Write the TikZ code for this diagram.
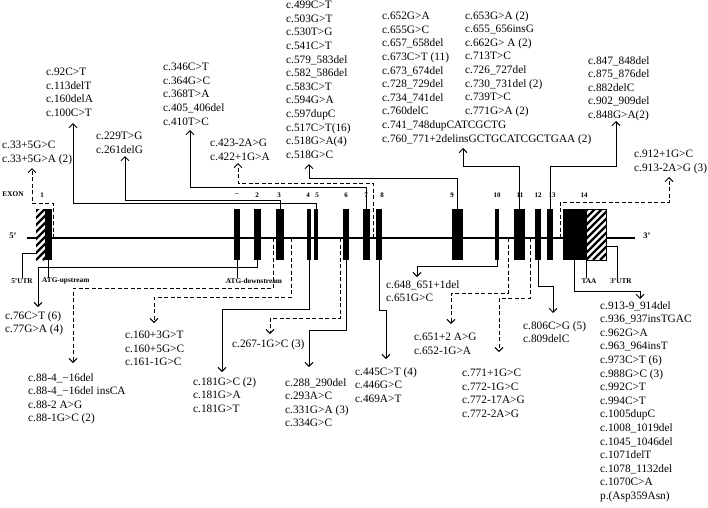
\documentclass[tikz,border=0pt]{standalone}
\usepackage{fontspec}
\setmainfont{Liberation Serif}
\usetikzlibrary{arrows.meta}
\begin{document}
\begin{tikzpicture}[x=1pt,y=-1pt,
  lst/.style={anchor=north west, inner sep=0pt, align=left, font=\fontsize{11.3}{13.6}\selectfont},
  lab/.style={inner sep=0pt, font=\bfseries\fontsize{7.3}{8}\selectfont},
  num/.style={inner sep=0pt, font=\bfseries\fontsize{7}{8}\selectfont},
  exon/.style={fill=black, draw=none, minimum height=51pt, inner sep=0pt, outer sep=0pt},
  hbox/.style={fill=white, draw=none, minimum height=51pt, inner sep=0pt, outer sep=0pt},
  conn/.style={line width=0.9pt},
  arr/.style={conn, -{Straight Barb[length=4pt,width=8pt]}},
  darr/.style={arr, dash pattern=on 4pt off 2.5pt},
  dconn/.style={conn, dash pattern=on 4pt off 2.5pt},
]
\useasboundingbox[fill=white] (0,0) rectangle (708,507);

% main line
\coordinate (ml0) at (27,238);
\coordinate (ml1) at (635,238);
\draw[line width=1.8pt] (ml0) -- (ml1);
\node[inner sep=0pt, font=\bfseries\fontsize{8.5}{9}\selectfont] (p5) at (13,236) {5'};
\node[inner sep=0pt, font=\bfseries\fontsize{8.5}{9}\selectfont] (p3) at (647,236) {3'};
\node[lab] (exonlab) at (13,194) {EXON};

% exons
\node[hbox, minimum width=9pt] (e1h) at (40.5,234.5) {};
\begin{scope}
  \clip (e1h.south west) rectangle (e1h.north east);
  \foreach \k in {-63,-56,...,14} \draw[line width=2.2pt] (36+\k,260) -- ++(60,-60);
\end{scope}
\node[exon, minimum width=7pt] (e1) at (48.5,234.5) {};
\node[exon, minimum width=6pt] (e1p) at (237,234.5) {};
\node[exon, minimum width=7pt] (e2) at (257.5,234.5) {};
\node[exon, minimum width=8pt] (e3) at (280,234.5) {};
\node[exon, minimum width=4pt] (e4) at (309,234.5) {};
\node[exon, minimum width=4pt] (e5) at (316,234.5) {};
\node[exon, minimum width=6pt] (e6) at (346,234.5) {};
\node[exon, minimum width=7pt] (e7) at (366.5,234.5) {};
\node[exon, minimum width=6pt] (e8) at (379,234.5) {};
\node[exon, minimum width=11pt] (e9) at (457.5,234.5) {};
\node[exon, minimum width=4pt] (e10) at (497,234.5) {};
\node[exon, minimum width=11pt] (e11) at (519.5,234.5) {};
\node[exon, minimum width=6pt] (e12) at (538,234.5) {};
\node[exon, minimum width=6pt] (e13) at (550,234.5) {};
\node[exon, minimum width=23pt] (e14) at (574.5,234.5) {};
\node[hbox, minimum width=20pt] (e14h) at (596,234.5) {};
\begin{scope}
  \clip (e14h.south west) rectangle (e14h.north east);
  \foreach \k in {-63,-56,...,28} \draw[line width=2.2pt] (586+\k,260) -- ++(60,-60);
\end{scope}
\draw[line width=0.8pt] (e14h.south west) rectangle (e14h.north east);

% exon numbers
\node[num] (n1) at (42,195) {1};
\node[num] (n1p) at (237,195) {--};
\node[num] (n2) at (257,195) {2};
\node[num] (n3) at (279,195) {3};
\node[num] (n4) at (308,195) {4};
\node[num] (n5) at (317,195) {5};
\node[num] (n6) at (346,195) {6};
\node[num] (n7) at (366,195) {7};
\node[num] (n8) at (382,195) {8};
\node[num] (n9) at (452,195) {9};
\node[num] (n10) at (497,195) {10};
\node[num] (n11) at (520,195) {11};
\node[num] (n12) at (538,195) {12};
\node[num] (n13) at (552,195) {13};
\node[num] (n14) at (584,195) {14};

% small labels below
\node[lab] (utr5) at (22,281) {5'UTR};
\node[lab, anchor=west] (atgu) at (42,281) {ATG-upstream};
\node[lab] (atgd) at (254,281) {ATG-downstream};
\node[lab] (taa) at (589,281) {TAA};
\node[lab] (utr3) at (621,281) {3'UTR};
\coordinate (u5) at (37,253);
\coordinate (u3) at (606,246);
\draw[conn] (u5) -| (utr5.north);
\draw[conn] (e1.south) -- (e1.south |- atgu.north);
\draw[conn] (e1p.south) -- (e1p.south |- atgd.north);
\draw[conn] (e14h.south west) -- (e14h.south west |- taa.north);
\draw[conn] (u3) -| ([xshift=-4pt]utr3.north);

% text lists (top)
\node[lst] (L33) at (2,141) {c.33+5G>C\\c.33+5G>A (2)};
\node[lst] (L92) at (46,68) {c.92C>T\\c.113delT\\c.160delA\\c.100C>T};
\node[lst] (L229) at (96,132) {c.229T>G\\c.261delG};
\node[lst] (L346) at (163,63) {c.346C>T\\c.364G>C\\c.368T>A\\c.405\_406del\\c.410T>C};
\node[lst] (L423) at (210,139) {c.423-2A>G\\c.422+1G>A};
\node[lst] (L499) at (286,1) {c.499C>T\\c.503G>T\\c.530T>G\\c.541C>T\\c.579\_583del\\c.582\_586del\\c.583C>T\\c.594G>A\\c.597dupC\\c.517C>T(16)\\c.518G>A(4)\\c.518G>C};
\node[lst] (L652) at (382,12) {c.652G>A\\c.655G>C\\c.657\_658del\\c.673C>T (11)\\c.673\_674del\\c.728\_729del\\c.734\_741del\\c.760delC\\c.741\_748dupCATCGCTG\\c.760\_771+2delinsGCTGCATCGCTGAA (2)};
\node[lst] (L653) at (465,11) {c.653G>A (2)\\c.655\_656insG\\c.662G> A (2)\\c.713T>C\\c.726\_727del\\c.730\_731del (2)\\c.739T>C\\c.771G>A (2)};
\node[lst] (L847) at (588,56) {c.847\_848del\\c.875\_876del\\c.882delC\\c.902\_909del\\c.848G>A(2)};
\node[lst] (L912) at (634,150) {c.912+1G>C\\c.913-2A>G (3)};

% text lists (bottom)
\node[lst] (L76) at (5,311) {c.76C>T (6)\\c.77G>A (4)};
\node[lst] (L88) at (28,373) {c.88-4\_−16del\\c.88-4\_−16del insCA\\c.88-2 A>G\\c.88-1G>C (2)};
\node[lst] (L160) at (125,331) {c.160+3G>T\\c.160+5G>C\\c.161-1G>C};
\node[lst] (L181) at (193,377) {c.181G>C (2)\\c.181G>A\\c.181G>T};
\node[lst] (L267) at (232,339) {c.267-1G>C (3)};
\node[lst] (L288) at (285,378) {c.288\_290del\\c.293A>C\\c.331G>A (3)\\c.334G>C};
\node[lst] (L445) at (355,367) {c.445C>T (4)\\c.446G>C\\c.469A>T};
\node[lst] (L648) at (386,280) {c.648\_651+1del\\c.651G>C};
\node[lst] (L651) at (414,333) {c.651+2 A>G\\c.652-1G>A};
\node[lst] (L771) at (462,369) {c.771+1G>C\\c.772-1G>C\\c.772-17A>G\\c.772-2A>G};
\node[lst] (L806) at (523,321) {c.806C>G (5)\\c.809delC};
\node[lst] (L913) at (600,301) {c.913-9\_914del\\c.936\_937insTGAC\\c.962G>A\\c.963\_964insT\\c.973C>T (6)\\c.988G>C (3)\\c.992C>T\\c.994C>T\\c.1005dupC\\c.1008\_1019del\\c.1045\_1046del\\c.1071delT\\c.1078\_1132del\\c.1070C>A\\p.(Asp359Asn)};

% splice-site points on main line
\coordinate (s33) at (53,238);
\coordinate (s423) at (373,238);
\coordinate (s912) at (560,238);
\coordinate (s88) at (273,238);
\coordinate (s160) at (291,238);
\coordinate (s267) at (340,238);
\coordinate (s651) at (508,238);
\coordinate (s771) at (530,238);

% arrow tips
\coordinate (a33) at (32,168);
\coordinate (a92) at (73,123);
\coordinate (a229) at (125,156);
\coordinate (a346) at (190,130);
\coordinate (a423) at (238,163);
\coordinate (a499) at (309,164);
\coordinate (a652) at (463,148);
\coordinate (a847) at (616,121);
\coordinate (a912) at (669,177);
\coordinate (a76) at (38,307);
\coordinate (a88) at (73,363);
\coordinate (a160) at (154,323);
\coordinate (a181) at (222,372);
\coordinate (a267) at (270,334);
\coordinate (a288) at (309,367);
\coordinate (a445) at (386,359);
\coordinate (a648) at (417,277);
\coordinate (a651) at (451,324);
\coordinate (a771) at (499,352);
\coordinate (a806) at (553,313);
\coordinate (a913) at (640,299);

% connectors (top)
\draw[darr] (s33) -- ++(0,-35) -| (a33);
\draw[arr] (e5.north) -- ++(0,-6) -| (a92);
\draw[arr] (e3.north) -- ++(0,-9) -| (a229);
\draw[arr] (e7.north) -- ++(0,-22) -| (a346);
\draw[darr] (s423) -- ++(0,-55) -| (a423);
\draw[arr] (e9.north) -- ++(0,-31) -| (a499);
\draw[arr] (e11.north) -- ++(0,-43) -| (a652);
\draw[arr] (e13.north) -- ++(0,-43) -| (a847);
\draw[darr] (s912) -- ++(0,-36) -| (a912);

% connectors (bottom)
\draw[arr] (e2.south) -- ++(0,7) -| (a76);
\draw[darr] (s88) -- ++(0,50) -| (a88);
\draw[darr] (s160) -- ++(0,59) -| (a160);
\draw[arr] (e4.south) -- ++(0,49) -| (a181);
\draw[darr] (s267) -- ++(0,80) -| (a267);
\draw[arr] (e6.south) -- ++(0,70) -| (a288);
\draw[arr] (e8.south) -- ++(0,50) -| (a445);
\draw[arr] (e10.south) -- ++(0,6) -| (a648);
\draw[darr] (s651) -- ++(0,55) -| (a651);
\draw[darr] (s771) -- ++(0,60) -| (a771);
\draw[arr] (e12.south) -- ++(0,26) -| (a806);
\draw[arr] (e14.south) -- ++(0,31) -| (a913);
\end{tikzpicture}
\end{document}
